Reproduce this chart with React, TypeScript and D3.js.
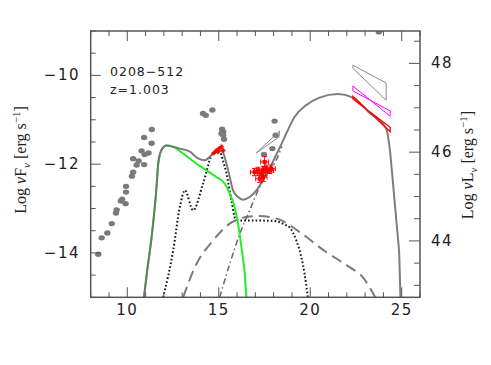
import React from 'react';
import * as d3 from 'd3';

// archival data (grey dots), log nu / log nuFnu
const archival: [number, number][] = [
  [8.41, -14.03], [8.6, -13.66], [8.91, -13.55], [9.15, -13.34], [9.38, -13.1], [9.42, -13.03],
  [9.65, -12.83], [9.72, -12.79], [9.91, -12.89], [9.93, -12.63], [9.93, -12.5], [10.25, -12.27],
  [10.32, -12.18], [10.32, -11.88], [10.51, -12.02], [10.62, -11.93], [10.78, -11.7], [10.92, -12.01],
  [10.95, -11.78], [11.16, -11.75], [10.92, -11.4], [11.33, -11.53], [11.34, -11.22],
  [14.14, -10.86], [14.29, -10.9], [14.65, -10.78],
  [15.18, -11.21], [15.24, -11.27], [15.15, -11.31], [15.24, -11.35], [15.29, -11.44],
  [18.05, -11.03], [18.11, -11.35], [17.93, -11.65], [17.47, -11.78],
  [23.75, -9.02],
];

// simultaneous data (red), with errors
const optical: [number, number][] = [
  [14.73, -11.75], [14.87, -11.69], [15.02, -11.65], [15.15, -11.61], [15.24, -11.69], [14.95, -11.72],
];
const xray: [number, number, number][] = [
  [16.96, -12.18, 0.08], [17.14, -12.14, 0.07], [17.33, -12.21, 0.1], [17.51, -11.95, 0.12],
  [17.6, -12.1, 0.08], [17.78, -12.14, 0.07], [17.87, -12.1, 0.08], [17.42, -12.29, 0.1],
  [17.24, -12.33, 0.08], [17.45, -12.15, 0.1],
];

// bowties
const bowGrey: [number, number][] = [[22.33, -9.77], [24.15, -10.17], [24.15, -10.56], [22.33, -9.84]];
const bowMagenta: [number, number][] = [[22.33, -10.24], [24.37, -10.92], [24.37, -10.8], [22.33, -10.35]];
const bowRed: [number, number][] = [[22.33, -10.47], [24.37, -11.27], [24.37, -11.17], [22.33, -10.53]];
const bowSmall: [number, number][] = [[17.05, -11.75], [18.33, -11.25], [18.29, -11.39]];

// model components
const total: [number, number][] = [
  [10.91, -15], [11.09, -14.39], [11.33, -13.64], [11.6, -12.51], [11.69, -11.99], [11.87, -11.68],
  [12.15, -11.58], [12.5, -11.61], [12.87, -11.65], [13.42, -11.72], [13.87, -11.87], [14.24, -11.91],
  [14.6, -11.8], [14.96, -11.69], [15.2, -11.72], [15.42, -11.99], [15.6, -12.29], [15.78, -12.59],
  [16.05, -12.74], [16.33, -12.8], [16.69, -12.74], [17.06, -12.59], [17.42, -12.36], [17.78, -12.1],
  [18.15, -11.78], [18.33, -11.63], [18.69, -11.31], [19.15, -10.93], [19.78, -10.67], [20.51, -10.5],
  [21.51, -10.42], [22.33, -10.5], [23.2, -10.83], [24.15, -11.2], [24.33, -11.6], [24.51, -12.36],
  [24.69, -13.2], [24.8, -13.7], [24.87, -14.09], [24.93, -15],
];
const disk: [number, number][] = [
  [10.91, -15], [11.09, -14.39], [11.33, -13.64], [11.6, -12.51], [11.69, -11.99], [11.87, -11.68],
  [12.15, -11.58], [12.51, -11.61], [13.05, -11.76], [13.78, -11.99], [14.33, -12.14], [14.87, -12.29],
  [15.33, -12.44], [15.6, -12.66], [15.87, -12.97], [16.05, -13.34], [16.24, -13.87], [16.42, -14.47],
  [16.51, -15],
];
const synchro: [number, number][] = [
  [11.96, -15], [12.51, -13.94], [12.87, -12.97], [13.15, -12.59], [13.6, -13.04], [14.14, -12.44],
  [14.69, -11.76], [15.05, -11.72], [15.25, -11.95], [15.42, -12.21], [15.69, -12.81], [15.9, -13.22],
  [16.2, -13.27], [17.0, -13.27], [18.0, -13.28], [18.6, -13.36], [18.9, -13.44], [19.24, -13.72],
  [19.51, -14.09], [19.69, -14.47], [19.87, -15],
];
const ssc: [number, number][] = [
  [13.05, -15], [13.78, -14.25], [14.69, -13.72], [15.6, -13.34], [16.51, -13.19], [17.2, -13.17],
  [18.33, -13.25], [19.42, -13.53], [20.87, -13.98], [22.15, -14.32], [22.88, -14.55], [23.55, -15],
];
const ec: [number, number][] = [
  [15.05, -15], [15.6, -14.25], [16.15, -13.57], [16.69, -13.04], [17.24, -12.51], [17.6, -12.25],
  [18.15, -11.9], [18.45, -11.6],
];

const xMajor = [10, 15, 20, 25];
const yMajor = [-10, -12, -14];
const lMajor = [44, 46, 48];
const L_OFFSET = 57.73;

const W = 491, H = 365;
const x = d3.scaleLinear().domain([8, 26]).range([90.7, 420]);
const y = d3.scaleLinear().domain([-15, -9]).range([297.3, 31]);

const line = d3.line<[number, number]>().x(d => x(d[0])).y(d => y(d[1])).curve(d3.curveMonotoneX);
const poly = (pts: [number, number][]) => pts.map(p => `${x(p[0])},${y(p[1])}`).join(' ');

const axisColor = '#555';
const numFont = { fontFamily: 'DejaVu Sans', fontSize: 15, letterSpacing: 1.5, fill: '#222' };

export default function App() {
  const [x0, x1] = x.range();
  const [y0, y1] = y.range();
  const xMinor = d3.range(8, 26.01, 1);
  const yMinor = d3.range(-15, -8.99, 0.5);
  const lMinor = d3.range(43, 48.8, 0.5);
  return (
    <svg width={W} height={H} style={{ position: 'absolute', left: 0, top: 0, background: '#fff' }}>
      <defs>
        <clipPath id="plot"><rect x={x0} y={y1} width={x1 - x0} height={y0 - y1} /></clipPath>
      </defs>
      <g clipPath="url(#plot)">
        <path d={line(ssc) || ''} fill="none" stroke="#7a7a7a" strokeWidth={2} strokeDasharray="11,6" />
        <path d={line(ec) || ''} fill="none" stroke="#666" strokeWidth={1.5} strokeDasharray="6,3,1.5,3" />
        <path d={line(synchro) || ''} fill="none" stroke="#111" strokeWidth={2} strokeDasharray="1.6,2.2" />
        <path d={line(disk) || ''} fill="none" stroke="#22ee22" strokeWidth={2} />
        <path d={line(total) || ''} fill="none" stroke="#6f6f6f" strokeWidth={2} opacity={0.9} />
        {archival.map((d, i) => (
          <ellipse key={i} cx={x(d[0])} cy={y(d[1])} rx={3.2} ry={2.7} fill="#7a7a7a" />
        ))}
        <polygon points={poly(bowSmall)} fill="none" stroke="#888" strokeWidth={1} />
        <polygon points={poly(bowGrey)} fill="none" stroke="#888" strokeWidth={1} />
        <polygon points={poly(bowMagenta)} fill="none" stroke="#ff00ff" strokeWidth={1} />
        <polygon points={poly(bowRed)} fill="none" stroke="#ff0000" strokeWidth={1.3} />
        {optical.map((d, i) => (
          <g key={i} stroke="#ff0000" strokeWidth={2}>
            <line x1={x(d[0] - 0.12)} x2={x(d[0] + 0.12)} y1={y(d[1])} y2={y(d[1])} />
            <line x1={x(d[0])} x2={x(d[0])} y1={y(d[1] - 0.05)} y2={y(d[1] + 0.05)} />
          </g>
        ))}
        {xray.map((d, i) => (
          <g key={i} stroke="#ff0000" strokeWidth={1}>
            <line x1={x(d[0] - 0.22)} x2={x(d[0] + 0.22)} y1={y(d[1])} y2={y(d[1])} />
            <line x1={x(d[0])} x2={x(d[0])} y1={y(d[1] - d[2])} y2={y(d[1] + d[2])} />
            <line x1={x(d[0] - 0.22)} x2={x(d[0] - 0.22)} y1={y(d[1]) - 2.5} y2={y(d[1]) + 2.5} />
            <line x1={x(d[0] + 0.22)} x2={x(d[0] + 0.22)} y1={y(d[1]) - 2.5} y2={y(d[1]) + 2.5} />
            <line x1={x(d[0]) - 2.5} x2={x(d[0]) + 2.5} y1={y(d[1] - d[2])} y2={y(d[1] - d[2])} />
            <line x1={x(d[0]) - 2.5} x2={x(d[0]) + 2.5} y1={y(d[1] + d[2])} y2={y(d[1] + d[2])} />
            <rect x={x(d[0]) - 1.5} y={y(d[1]) - 1.5} width={3} height={3} fill="#ff0000" />
          </g>
        ))}
      </g>

      {/* frame and ticks */}
      <rect x={x0} y={y1} width={x1 - x0} height={y0 - y1} fill="none" stroke={axisColor} strokeWidth={1.5} />
      {xMinor.map(v => {
        const len = xMajor.includes(Math.round(v)) ? 10 : 5;
        return (
          <g key={v} stroke={axisColor} strokeWidth={1}>
            <line x1={x(v)} x2={x(v)} y1={y0} y2={y0 - len} />
            <line x1={x(v)} x2={x(v)} y1={y1} y2={y1 + len} />
          </g>
        );
      })}
      {yMinor.map(v => {
        const len = yMajor.some(m => Math.abs(m - v) < 1e-6) ? 10 : 5;
        return <line key={v} x1={x0} x2={x0 + len} y1={y(v)} y2={y(v)} stroke={axisColor} strokeWidth={1} />;
      })}
      {lMinor.map(v => {
        const len = lMajor.some(m => Math.abs(m - v) < 1e-6) ? 11 : 6;
        const py = y(v - L_OFFSET);
        return <line key={v} x1={x1} x2={x1 - len} y1={py} y2={py} stroke={axisColor} strokeWidth={1} />;
      })}

      {xMajor.map(v => (
        <text key={v} x={x(v)} y={315} textAnchor="middle" {...numFont}>{v}</text>
      ))}
      {yMajor.map(v => (
        <text key={v} x={80} y={y(v) + 5} textAnchor="end" {...numFont}>{'\u2212' + Math.abs(v)}</text>
      ))}
      {lMajor.map(v => (
        <text key={v} x={431} y={y(v - L_OFFSET) + 5} textAnchor="start" {...numFont}>{v}</text>
      ))}

      <text x={110} y={76} fontFamily="DejaVu Sans" fontSize={12.5} letterSpacing={1} fill="#222">0208{'\u2212'}512</text>
      <text x={110} y={94} fontFamily="DejaVu Sans" fontSize={12.5} letterSpacing={1} fill="#222">z=1.003</text>

      <text transform="translate(26,160) rotate(-90)" textAnchor="middle" fontFamily="Liberation Serif" fontSize={16} fill="#222">
        Log <tspan fontStyle="italic">ν</tspan>F<tspan fontSize={11} dy={4} fontStyle="italic">ν</tspan>
        <tspan dy={-4}> [erg s</tspan><tspan fontSize={11} dy={-6}>−1</tspan><tspan dy={6}>]</tspan>
      </text>
      <text transform="translate(473,165) rotate(-90)" textAnchor="middle" fontFamily="Liberation Serif" fontSize={16} fill="#222">
        Log <tspan fontStyle="italic">ν</tspan>L<tspan fontSize={11} dy={4} fontStyle="italic">ν</tspan>
        <tspan dy={-4}> [erg s</tspan><tspan fontSize={11} dy={-6}>−1</tspan><tspan dy={6}>]</tspan>
      </text>
    </svg>
  );
}
